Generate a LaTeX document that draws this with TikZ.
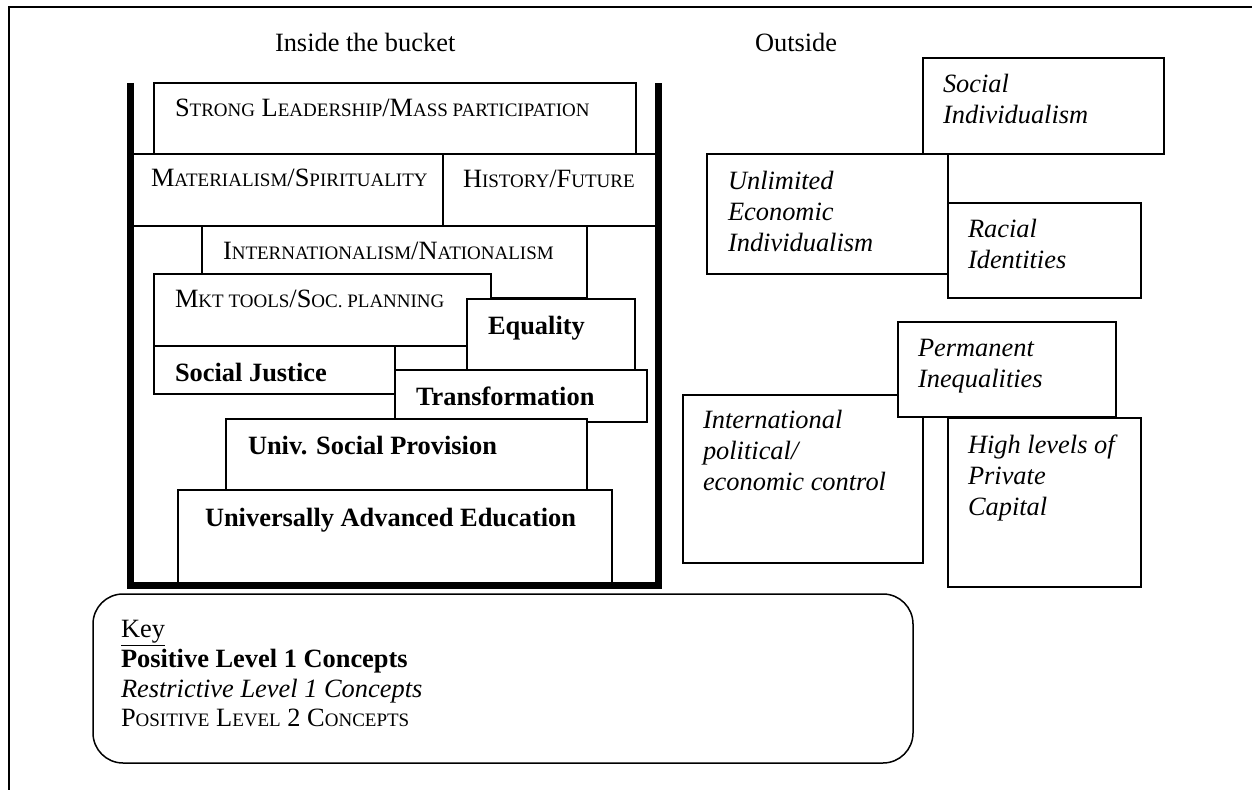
\documentclass[tikz,border=0pt]{standalone}
\usepackage{fontspec}
\setmainfont{Liberation Serif}
\usetikzlibrary{fit}
% scaled capitals standing in for lowercase small caps
\newcommand\sm[1]{{\fontsize{9.5pt}{15.5pt}\selectfont #1}}
% left-aligned lines whose first baseline is the node's base
\newcommand\lines[1]{\begin{tabular}[t]{@{}l@{}}#1\end{tabular}}
\begin{document}
\begin{tikzpicture}[x=0.5pt,y=-0.5pt,
  every node/.style={inner sep=0pt,outer sep=0pt},
  box/.style={draw,fill=white,line width=0.75pt,inner sep=0pt,rectangle},
  txt/.style={anchor=base west,font=\fontsize{13.2pt}{15.5pt}\selectfont},
  postxt/.style={txt,font=\fontsize{13.2pt}{15.5pt}\selectfont\bfseries},
  negtxt/.style={txt,font=\fontsize{13.2pt}{15.5pt}\selectfont\itshape},
  keytxt/.style={anchor=base west,font=\fontsize{13.2pt}{14.8pt}\selectfont},
  wall/.style={line width=3.5pt,line join=miter},
  frame/.style={line width=0.75pt}]
\useasboundingbox (0,0) rectangle (1252,790);

% page frame
\draw[frame] (9,790) -- (9,7) -- (1252,7);

% titles
\node[txt] (tin) at (275,52) {Inside the bucket};
\node[txt] (tout) at (755,52) {Outside};

% contents of the bucket
\node[box,fit={(154,83) (636,154)}] (lead) {};
\node[txt] (leadt) at (175,117) {S\sm{TRONG} L\sm{EADERSHIP}/M\sm{ASS PARTICIPATION}};
\node[box,fit={(130,154) (443,226)}] (mat) {};
\node[txt] (matt) at (151,187) {M\sm{ATERIALISM}/S\sm{PIRITUALITY}};
\node[box,fit={(443,154) (658,226)}] (hist) {};
\node[txt] (histt) at (463,188) {H\sm{ISTORY}/F\sm{UTURE}};
\node[box,fit={(202,226) (587,298)}] (intl) {};
\node[txt] (intlt) at (223,260) {I\sm{NTERNATIONALISM}/N\sm{ATIONALISM}};
\node[box,fit={(154,274) (491,346)}] (mkt) {};
\node[txt] (mktt) at (175,308) {M\sm{KT TOOLS}/S\sm{OC. PLANNING}};
\node[box,fit={(467,299) (635,370)}] (eq) {};
\node[postxt] (eqt) at (488,335) {Equality};
\node[box,fit={(154,346) (395,394)}] (sj) {};
\node[postxt] (sjt) at (175,382) {Social Justice};
\node[box,fit={(395,370) (647,422)}] (tr) {};
\node[postxt] (trt) at (416,406) {Transformation};
\node[box,fit={(226,419) (587,490)}] (usp) {};
\node[postxt] (uspt) at (248,455) {Univ. Social Provision};
\node[box,fit={(178,490) (612,585)}] (uae) {};
\node[postxt] (uaet) at (205,527) {Universally Advanced Education};

% the bucket itself
\draw[wall] (130.5,83) -- (130.5,585) -- (658,585) -- (658,83);

% outside the bucket
\node[box,fit={(923,58) (1164,154)}] (si) {};
\node[negtxt] (sit) at (943,93) {\lines{Social\\Individualism}};
\node[box,fit={(707,154) (948,274)}] (uei) {};
\node[negtxt] (ueit) at (728,190) {\lines{Unlimited\\Economic\\Individualism}};
\node[box,fit={(948,203) (1141,298)}] (ri) {};
\node[negtxt] (rit) at (968,238) {\lines{Racial\\Identities}};
\node[box,fit={(683,395) (923,563)}] (ipe) {};
\node[negtxt] (ipet) at (703,429) {\lines{International\\political/\\economic control}};
\node[box,fit={(898,322) (1116,417)}] (pi) {};
\node[negtxt] (pit) at (918,357) {\lines{Permanent\\Inequalities}};
\node[box,fit={(948,418) (1141,587)}] (hpc) {};
\node[negtxt] (hpct) at (968,454) {\lines{High levels of\\Private\\Capital}};

% key
\node[box,rounded corners=15pt,fit={(93,594) (913,763)}] (key) {};
\node[keytxt] (keyt) at (121,637) {\lines{\underline{Key}\\
  \textbf{Positive Level 1 Concepts}\\
  \textit{Restrictive Level 1 Concepts}\\
  P\sm{OSITIVE} L\sm{EVEL} 2 C\sm{ONCEPTS}}};
\end{tikzpicture}
\end{document}
